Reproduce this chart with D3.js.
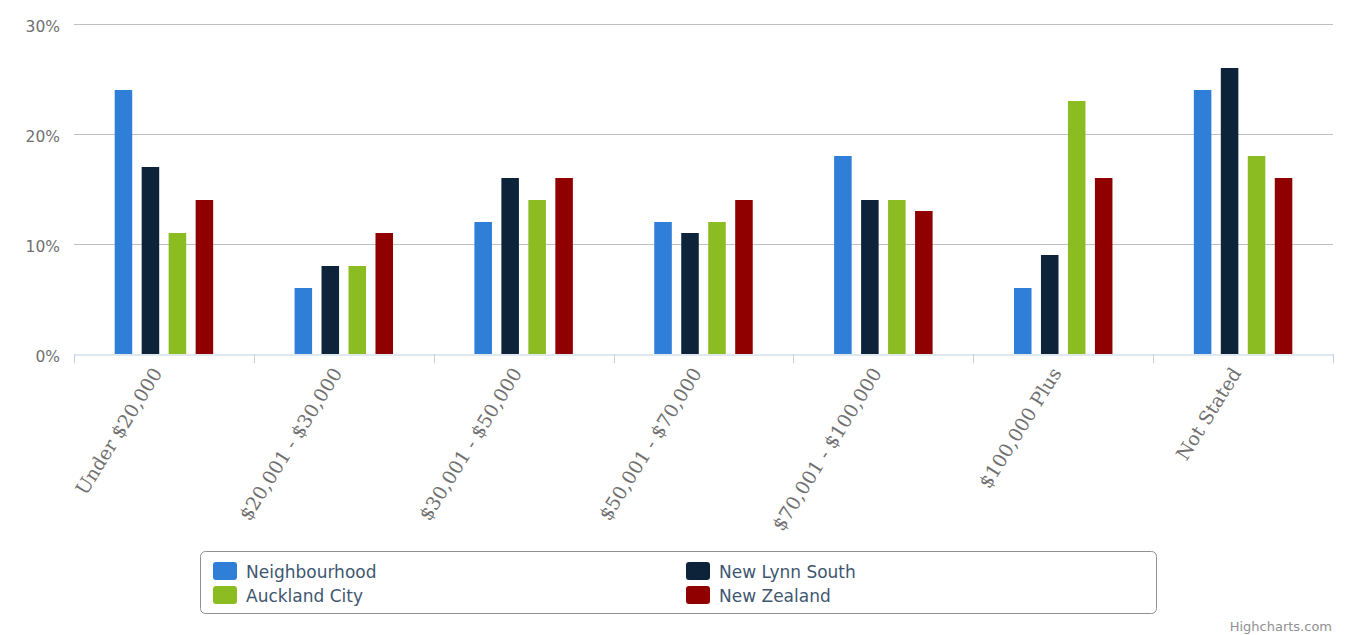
<!DOCTYPE html>
<html><head><meta charset="utf-8">
<script src="https://cdn.jsdelivr.net/npm/d3@7"></script>
<style>html,body{margin:0;padding:0;background:#fff;}svg{display:block;}</style>
</head><body>
<svg id="chart" width="1346" height="635"></svg>
<script>
const categories = ["Under $20,000", "$20,001 - $30,000", "$30,001 - $50,000", "$50,001 - $70,000", "$70,001 - $100,000", "$100,000 Plus", "Not Stated"];
const seriesNames = ["Neighbourhood", "New Lynn South", "Auckland City", "New Zealand"];
const seriesColors = ["#2F7ED8", "#0D233A", "#8BBC21", "#910000"];
const neighbourhood = [24, 6, 12, 12, 18, 6, 24];
const newLynnSouth = [17, 8, 16, 11, 14, 9, 26];
const aucklandCity = [11, 8, 14, 12, 14, 23, 18];
const newZealand = [14, 11, 16, 14, 13, 16, 16];
const yTicks = [0, 10, 20, 30];

(function () {
const seriesValues = [neighbourhood, newLynnSouth, aucklandCity, newZealand];
const svg = d3.select("#chart");
const pLeft = 74, pRight = 1333, pTop = 24, pBottom = 354;

const x0 = d3.scaleBand().domain(categories).range([pLeft, pRight]).padding(0);
const bw = x0.bandwidth();
const x1 = d3.scaleBand().domain(seriesNames).range([bw * 0.2, bw * 0.8]).paddingInner(0.35).paddingOuter(0.175);
const y = d3.scaleLinear().domain([0, 30]).range([pBottom, pTop]);

// gridlines
svg.append("g").selectAll("line").data(yTicks.filter(d => d > 0)).join("line")
  .attr("x1", pLeft).attr("x2", pRight)
  .attr("y1", d => Math.round(y(d)) + 0.5).attr("y2", d => Math.round(y(d)) + 0.5)
  .attr("stroke", "#C0C0C0").attr("stroke-width", 1);

// y labels
svg.append("g").selectAll("text").data(yTicks).join("text")
  .attr("x", 60).attr("y", d => y(d) + 7.5)
  .attr("text-anchor", "end")
  .attr("font-family", "DejaVu Sans").attr("font-size", 15.5).attr("fill", "#707070")
  .text(d => d + "%");

// bars
const groups = svg.append("g").selectAll("g").data(seriesNames).join("g")
  .attr("fill", (d, i) => seriesColors[i]);
groups.selectAll("rect").data((s, i) => categories.map((c, j) => ({c, s, v: seriesValues[i][j]}))).join("rect")
  .attr("x", d => x0(d.c) + x1(d.s))
  .attr("width", x1.bandwidth())
  .attr("y", d => y(d.v))
  .attr("height", d => y(0) - y(d.v));

// x axis
const xAxis = d3.axisBottom(x0).tickSize(0).tickFormat("");
const ax = svg.append("g").attr("transform", `translate(0,${pBottom + 0.5})`).call(xAxis);
ax.select(".domain").attr("stroke", "#C0D0E0");
const bounds = categories.map(c => x0(c)).concat([pRight]);
svg.append("g").selectAll("line").data(bounds).join("line")
  .attr("x1", d => Math.round(d) + 0.5).attr("x2", d => Math.round(d) + 0.5)
  .attr("y1", pBottom).attr("y2", pBottom + 9)
  .attr("stroke", "#C0D0E0");

svg.append("g").selectAll("text").data(categories).join("text")
  .attr("transform", d => `translate(${x0(d) + bw / 2 - 1},${pBottom + 19}) rotate(-58)`)
  .attr("text-anchor", "end")
  .attr("font-family", "DejaVu Serif").attr("font-size", 19).attr("fill", "#707070")
  .text(d => d);

// legend
svg.append("rect").attr("x", 200.5).attr("y", 551.5).attr("width", 956).attr("height", 62)
  .attr("rx", 5).attr("fill", "none").attr("stroke", "#909090").attr("stroke-width", 1);
const legPos = [[213, 562], [686, 562], [213, 586], [686, 586]];
const leg = svg.append("g").selectAll("g").data(seriesNames).join("g")
  .attr("transform", (d, i) => `translate(${legPos[i][0]},${legPos[i][1]})`);
leg.append("rect").attr("width", 24).attr("height", 18).attr("rx", 3)
  .attr("fill", (d, i) => seriesColors[i]);
leg.append("text").attr("x", 33).attr("y", 16)
  .attr("font-family", "DejaVu Sans").attr("font-size", 17).attr("fill", "#3E576F")
  .text(d => d);

// credits
svg.append("text").attr("x", 1332).attr("y", 631).attr("text-anchor", "end")
  .attr("font-family", "DejaVu Sans").attr("font-size", 13).attr("fill", "#909090")
  .text("Highcharts.com");
})();
</script>
</body></html>
